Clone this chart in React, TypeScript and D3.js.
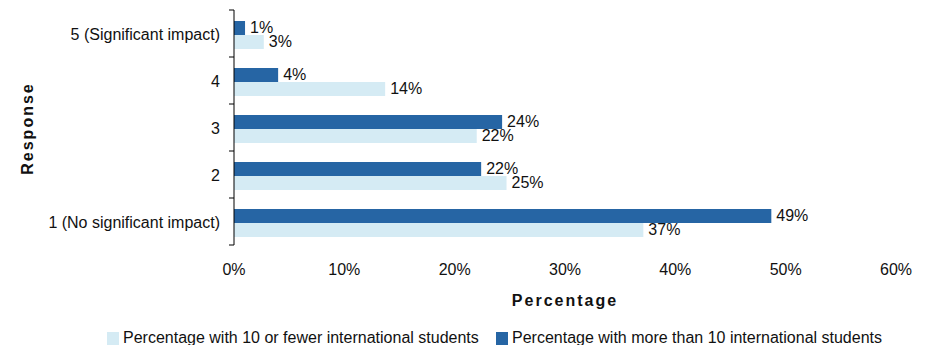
import React from "react";
import * as d3 from "d3";

const categories = ["5 (Significant impact)", "4", "3", "2", "1 (No significant impact)"];
const seriesNames = [
  "Percentage with more than 10 international students",
  "Percentage with 10 or fewer international students",
];
const moreThan10 = [1.0, 4.0, 24.3, 22.4, 48.7];
const fewerThan10 = [2.7, 13.7, 22.0, 24.7, 37.1];
const moreLabels = ["1%", "4%", "24%", "22%", "49%"];
const fewerLabels = ["3%", "14%", "22%", "25%", "37%"];
const xTicks = [0, 10, 20, 30, 40, 50, 60];

const W = 928;
const H = 345;
const DARK = "#2665a4";
const LIGHT = "#d5ebf4";
const FONT = "'Liberation Sans', Arial, sans-serif";

export default function App() {
  const left = 234;
  const right = 896;
  const top = 10;
  const bottom = 245;
  const x = d3.scaleLinear().domain([0, 60]).range([left, right]);
  const y = d3.scaleBand<string>().domain(categories).range([top, bottom]).paddingInner(0).paddingOuter(0);
  const bw = y.bandwidth();
  const groupPadTop = 11;
  const barH = 14;
  const series = [
    { vals: moreThan10, labels: moreLabels, color: DARK, off: 0 },
    { vals: fewerThan10, labels: fewerLabels, color: LIGHT, off: 1 },
  ];
  return (
    <div style={{ position: "fixed", left: 0, top: 0, width: W, height: H }}>
      <svg width={W} height={H} style={{ display: "block", fontFamily: FONT }}>
        <rect width={W} height={H} fill="#fff" />
        {series.map((s, si) =>
          categories.map((c, i) => {
            const y0 = (y(c) as number) + groupPadTop + s.off * barH;
            return (
              <g key={`${si}-${i}`}>
                <rect x={x(0)} y={y0} width={x(s.vals[i]) - x(0)} height={barH} fill={s.color} />
                <text x={x(s.vals[i]) + 5} y={y0 + barH / 2 + 5} fontSize={16} fill="#111">
                  {s.labels[i]}
                </text>
              </g>
            );
          })
        )}
        {/* y axis */}
        <line x1={left} x2={left} y1={top} y2={bottom} stroke="#000" strokeWidth={1} />
        {d3.range(categories.length + 1).map((k) => {
          const yy = top + k * bw;
          return <line key={k} x1={left - 5} x2={left} y1={yy} y2={yy} stroke="#000" />;
        })}
        {categories.map((c) => (
          <text key={c} x={left - 14} y={(y(c) as number) + bw / 2 + 6} textAnchor="end" fontSize={16} fill="#111">
            {c}
          </text>
        ))}
        {xTicks.map((t) => (
          <text key={t} x={x(t)} y={275} textAnchor="middle" fontSize={16} fill="#111">
            {t}%
          </text>
        ))}
        <text x={565} y={306} textAnchor="middle" fontSize={16} fontWeight="bold" letterSpacing={2} fill="#111">
          Percentage
        </text>
        <text
          transform={`translate(33,${(top + bottom) / 2 + 1}) rotate(-90)`}
          textAnchor="middle"
          fontSize={16}
          fontWeight="bold"
          letterSpacing={2}
          fill="#111"
        >
          Response
        </text>
        {/* legend */}
        <rect x={107} y={332} width={12} height={13} fill={LIGHT} />
        <text x={123} y={343} fontSize={16} fill="#111">{seriesNames[1]}</text>
        <rect x={496} y={332} width={12} height={13} fill={DARK} />
        <text x={512} y={343} fontSize={16} fill="#111">{seriesNames[0]}</text>
      </svg>
    </div>
  );
}
